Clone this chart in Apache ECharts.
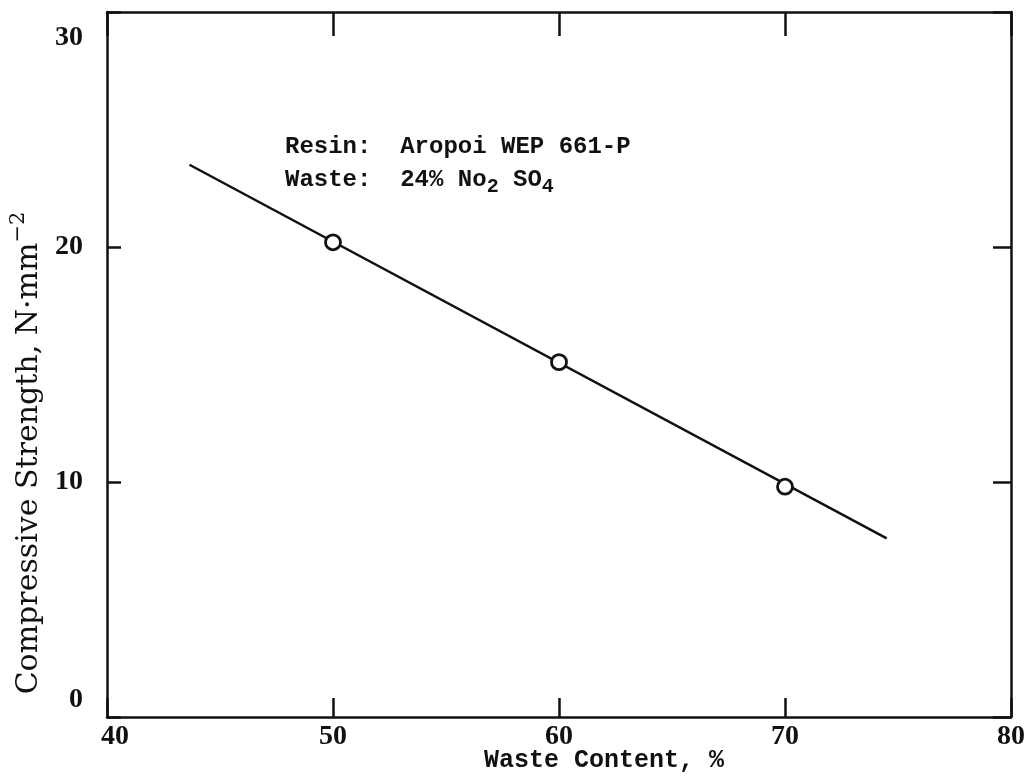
<!DOCTYPE html>
<html>
<head>
<meta charset="utf-8">
<script src="https://cdn.jsdelivr.net/npm/echarts@6/dist/echarts.min.js"></script>
<style>html,body{margin:0;padding:0;background:#fff}#c{width:1029px;height:783px}</style>
</head>
<body>
<div id="c"></div>
<script>
// Measured points (Waste content %, compressive strength N/mm^2)
const pointX = [50, 60, 70];
const pointY = [20.2, 15.1, 9.8];
// Fitted line end points
const lineX = [43.65, 74.5];
const lineY = [23.5, 7.6];
// Axis ticks
const xTicks = [40, 50, 60, 70, 80];
const yTicks = [0, 10, 20, 30];
const xName = 'Waste Content, %';
const yName = 'Compressive Strength, N\u00B7mm';
const note1 = 'Resin:  Aropoi WEP 661-P';
const note2 = ['Waste:  24% No', '2', ' SO', '4'];

const chart = echarts.init(document.getElementById('c'));
const black = '#111';
const labFont = {fontFamily: 'Liberation Serif', fontWeight: 'bold', fontSize: 28, color: black};
const lineSt = {color: black, width: 2.5};

function xAxisDef(pos, tickLen, showLabel) {
  return {
    type: 'value', position: pos, min: xTicks[0], max: xTicks[xTicks.length - 1], interval: 10,
    axisLine: {show: true, onZero: false, lineStyle: lineSt},
    axisTick: {show: true, inside: true, length: tickLen, lineStyle: lineSt},
    splitLine: {show: false},
    axisLabel: {
      show: showLabel, margin: 6, ...labFont,
      formatter: v => v === 40 ? '{r|40}' : String(v),
      rich: {r: {...labFont, padding: [0, 0, 0, 16]}}
    }
  };
}
function yAxisDef(pos, tickLen, showLabel) {
  return {
    type: 'value', position: pos, min: yTicks[0], max: yTicks[yTicks.length - 1], interval: 10,
    axisLine: {show: true, onZero: false, lineStyle: lineSt},
    axisTick: {show: true, inside: true, length: tickLen, lineStyle: lineSt},
    splitLine: {show: false},
    axisLabel: {
      show: showLabel, margin: 24, ...labFont,
      formatter: v => v === 0 ? '{u|0}' : (v === 30 ? '{d|30}' : String(v)),
      rich: {
        u: {...labFont, padding: [0, 0, 34, 0]},
        d: {...labFont, padding: [52, 0, 0, 0]}
      }
    }
  };
}

const mono = {fontFamily: 'Liberation Mono', fontSize: 24, fontWeight: 'bold', fill: black};

chart.setOption({
  animation: false,
  backgroundColor: '#fff',
  grid: {left: 107, right: 18, top: 12, bottom: 66, containLabel: false},
  xAxis: [xAxisDef('bottom', 19, true), xAxisDef('top', 24, false)],
  yAxis: [yAxisDef('left', 14, true), yAxisDef('right', 18, false)],
  series: [
    {
      type: 'line', xAxisIndex: 0, yAxisIndex: 0,
      data: lineX.map((x, i) => [x, lineY[i]]),
      symbol: 'none', lineStyle: {color: black, width: 2.5}, z: 2
    },
    {
      type: 'scatter', xAxisIndex: 0, yAxisIndex: 0,
      data: pointX.map((x, i) => [x, pointY[i]]),
      symbol: 'circle', symbolSize: 15,
      itemStyle: {color: '#fff', borderColor: black, borderWidth: 2.8, opacity: 1}, z: 3
    }
  ],
  graphic: [
    {
      type: 'text', x: 29, y: 453, rotation: Math.PI / 2,
      style: {
        text: yName + '{s|\u22122}',
        fontFamily: 'DejaVu Serif', fontSize: 30, fill: black,
        align: 'center', verticalAlign: 'middle',
        rich: {s: {fontFamily: 'DejaVu Serif', fontSize: 21, fill: black, padding: [0, 0, 20, 0]}}
      }
    },
    {
      type: 'text', x: 604, y: 761,
      style: {text: xName, fontFamily: 'Liberation Mono', fontWeight: 'bold', fontSize: 25, fill: black,
        align: 'center', verticalAlign: 'middle'}
    },
    {
      type: 'text', x: 285, y: 135,
      style: {text: note1, ...mono, align: 'left', verticalAlign: 'top'}
    },
    {
      type: 'text', x: 285, y: 163,
      style: {
        text: note2[0] + '{s|' + note2[1] + '}' + note2[2] + '{s|' + note2[3] + '}',
        ...mono, align: 'left', verticalAlign: 'top',
        rich: {s: {fontFamily: 'Liberation Mono', fontWeight: 'bold', fontSize: 20, fill: black, padding: [14, 0, 0, 0]}}
      }
    }
  ]
});
</script>
</body>
</html>
